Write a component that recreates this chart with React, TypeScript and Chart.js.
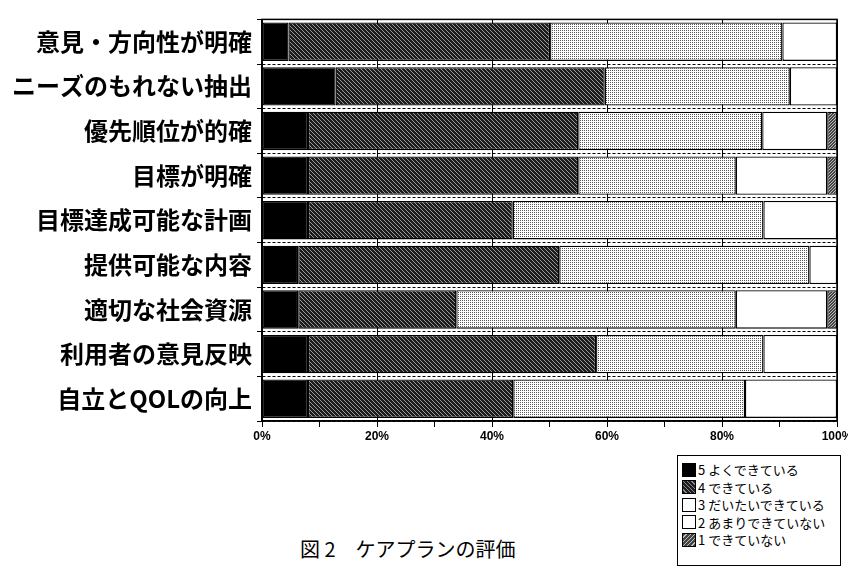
import React, { useEffect, useRef } from "react";
import { Chart, registerables } from "chart.js";

Chart.register(...registerables);

const categories = [
  "意見・方向性が明確",
  "ニーズのもれない抽出",
  "優先順位が的確",
  "目標が明確",
  "目標達成可能な計画",
  "提供可能な内容",
  "適切な社会資源",
  "利用者の意見反映",
  "自立とQOLの向上",
];

const seriesLabels = [
  "5 よくできている",
  "4 できている",
  "3 だいたいできている",
  "2 あまりできていない",
  "1 できていない",
];

const s5 = [4.6, 12.8, 8.0, 8.0, 8.0, 6.3, 6.3, 8.0, 8.0];
const s4 = [45.5, 46.8, 47.0, 47.0, 35.6, 45.4, 27.5, 50.1, 35.7];
const s3 = [40.4, 32.2, 32.0, 27.4, 43.6, 43.5, 48.6, 29.1, 40.3];
const s2 = [9.5, 8.2, 11.3, 15.9, 12.8, 4.8, 15.9, 12.8, 16.0];
const s1 = [0, 0, 1.7, 1.7, 0, 0, 1.7, 0, 0];

const xTicks = [0, 20, 40, 60, 80, 100];

const caption = "図 2　ケアプランの評価";

function makePattern(draw: (c: CanvasRenderingContext2D) => void, w: number, h: number) {
  const cv = document.createElement("canvas");
  cv.width = w;
  cv.height = h;
  const c = cv.getContext("2d") as CanvasRenderingContext2D;
  draw(c);
  return c.createPattern(cv, "repeat") as CanvasPattern;
}

const legendSwatch = [
  { background: "#000" },
  { background: "repeating-linear-gradient(45deg, #1e1e1e 0 2px, #8a8a8a 2px 3px)" },
  { background: "#fff" },
  { background: "#fff" },
  { background: "repeating-linear-gradient(-45deg, #444 0 2px, #bbb 2px 3px)" },
];

export default function App() {
  const ref = useRef<HTMLCanvasElement | null>(null);

  useEffect(() => {
    if (!ref.current) return;
    const p4 = makePattern((c) => {
      c.fillStyle = "#1c1c1c";
      c.fillRect(0, 0, 4, 4);
      c.fillStyle = "#9a9a9a";
      for (let i = 0; i < 4; i++) c.fillRect(i, i, 1, 1);
    }, 4, 4);
    const p3 = makePattern((c) => {
      c.fillStyle = "#ffffff";
      c.fillRect(0, 0, 2, 2);
      c.fillStyle = "#555";
      c.fillRect(0, 0, 1, 1);
    }, 2, 2);
    const p1 = makePattern((c) => {
      c.fillStyle = "#444";
      c.fillRect(0, 0, 3, 3);
      c.fillStyle = "#bbb";
      c.fillRect(0, 2, 1, 1);
      c.fillRect(1, 1, 1, 1);
      c.fillRect(2, 0, 1, 1);
    }, 3, 3);

    const fills: (string | CanvasPattern)[] = ["#000", p4, p3, "#fff", p1];
    const values = [s5, s4, s3, s2, s1];

    const frame = {
      id: "frame",
      afterDatasetsDraw(chart: any) {
        const { ctx, chartArea } = chart;
        ctx.save();
        ctx.strokeStyle = "#000";
        ctx.lineWidth = 1.5;
        ctx.strokeRect(chartArea.left, chartArea.top, chartArea.right - chartArea.left, chartArea.bottom - chartArea.top);
        ctx.restore();
      },
    };

    const chart = new Chart(ref.current, {
      type: "bar",
      data: {
        labels: categories,
        datasets: values.map((v, i) => ({
          label: seriesLabels[i],
          data: v,
          backgroundColor: fills[i] as any,
          borderColor: "#000",
          borderWidth: 1.3,
          borderSkipped: false,
          barPercentage: 0.86,
          categoryPercentage: 1,
        })),
      },
      options: {
        indexAxis: "y",
        responsive: false,
        animation: false,
        layout: { padding: { top: 10, right: 25, left: 0, bottom: 0 } },
        plugins: {
          legend: { display: false },
          tooltip: { enabled: false },
        },
        scales: {
          x: {
            stacked: true,
            min: 0,
            max: 100,
            afterFit(scale: any) {
              scale.height = 29;
            },
            afterBuildTicks(scale: any) {
              const t = [];
              for (let v = 0; v <= 100; v += 10) t.push({ value: v });
              scale.ticks = t;
            },
            ticks: {
              autoSkip: false,
              maxRotation: 0,
              color: "#000",
              padding: 2,
              font: { family: "Liberation Sans", size: 12, weight: "bold" },
              callback: (v: any) => (xTicks.includes(Number(v)) ? v + "%" : ""),
            },
            grid: {
              color: (ctx: any) => (ctx.tick && ctx.tick.value % 20 === 0 ? "#000" : "rgba(0,0,0,0)"),
              tickColor: "#000",
              tickLength: 6,
              lineWidth: 1,
            },
            border: { display: true, color: "#000", width: 1.5 },
          },
          y: {
            stacked: true,
            offset: true,
            afterFit(scale: any) {
              scale.width = 262;
            },
            ticks: {
              color: "#000",
              padding: 5,
              font: { family: "Noto Sans CJK JP", size: 24, weight: "bold" },
            },
            grid: {
              offset: true,
              color: "#000",
              tickColor: "#000",
              tickLength: 5,
              lineWidth: 1,
            },
            border: { display: true, color: "#000", width: 1.5, dash: [3, 2] },
          },
        },
      },
      plugins: [frame],
    } as any);
    return () => chart.destroy();
  }, []);

  return (
    <div style={{ position: "fixed", left: 0, top: 0, width: 848, height: 571, overflow: "hidden", background: "#fff" }}>
      <canvas ref={ref} width={862} height={450} style={{ position: "absolute", left: 0, top: 0 }} />
      <div
        style={{
          position: "absolute",
          left: 677,
          top: 455,
          width: 164,
          height: 111,
          border: "1.5px solid #000",
          boxSizing: "border-box",
          padding: "5px 0 0 4px",
          fontFamily: "Noto Sans CJK JP",
          fontSize: 13,
          color: "#000",
          whiteSpace: "nowrap",
        }}
      >
        {seriesLabels.map((l, i) => (
          <div key={l} style={{ display: "flex", alignItems: "center", height: 17.5 }}>
            <span
              style={{
                display: "inline-block",
                flex: "0 0 auto",
                width: 14,
                height: 14,
                border: "1px solid #000",
                boxSizing: "border-box",
                marginRight: 2,
                ...legendSwatch[i],
              }}
            />
            <span>{l}</span>
          </div>
        ))}
      </div>
      <div
        style={{
          position: "absolute",
          left: 300,
          top: 534,
          fontFamily: "Noto Sans CJK JP",
          fontSize: 20,
          color: "#000",
          whiteSpace: "pre",
        }}
      >
        {caption}
      </div>
    </div>
  );
}
